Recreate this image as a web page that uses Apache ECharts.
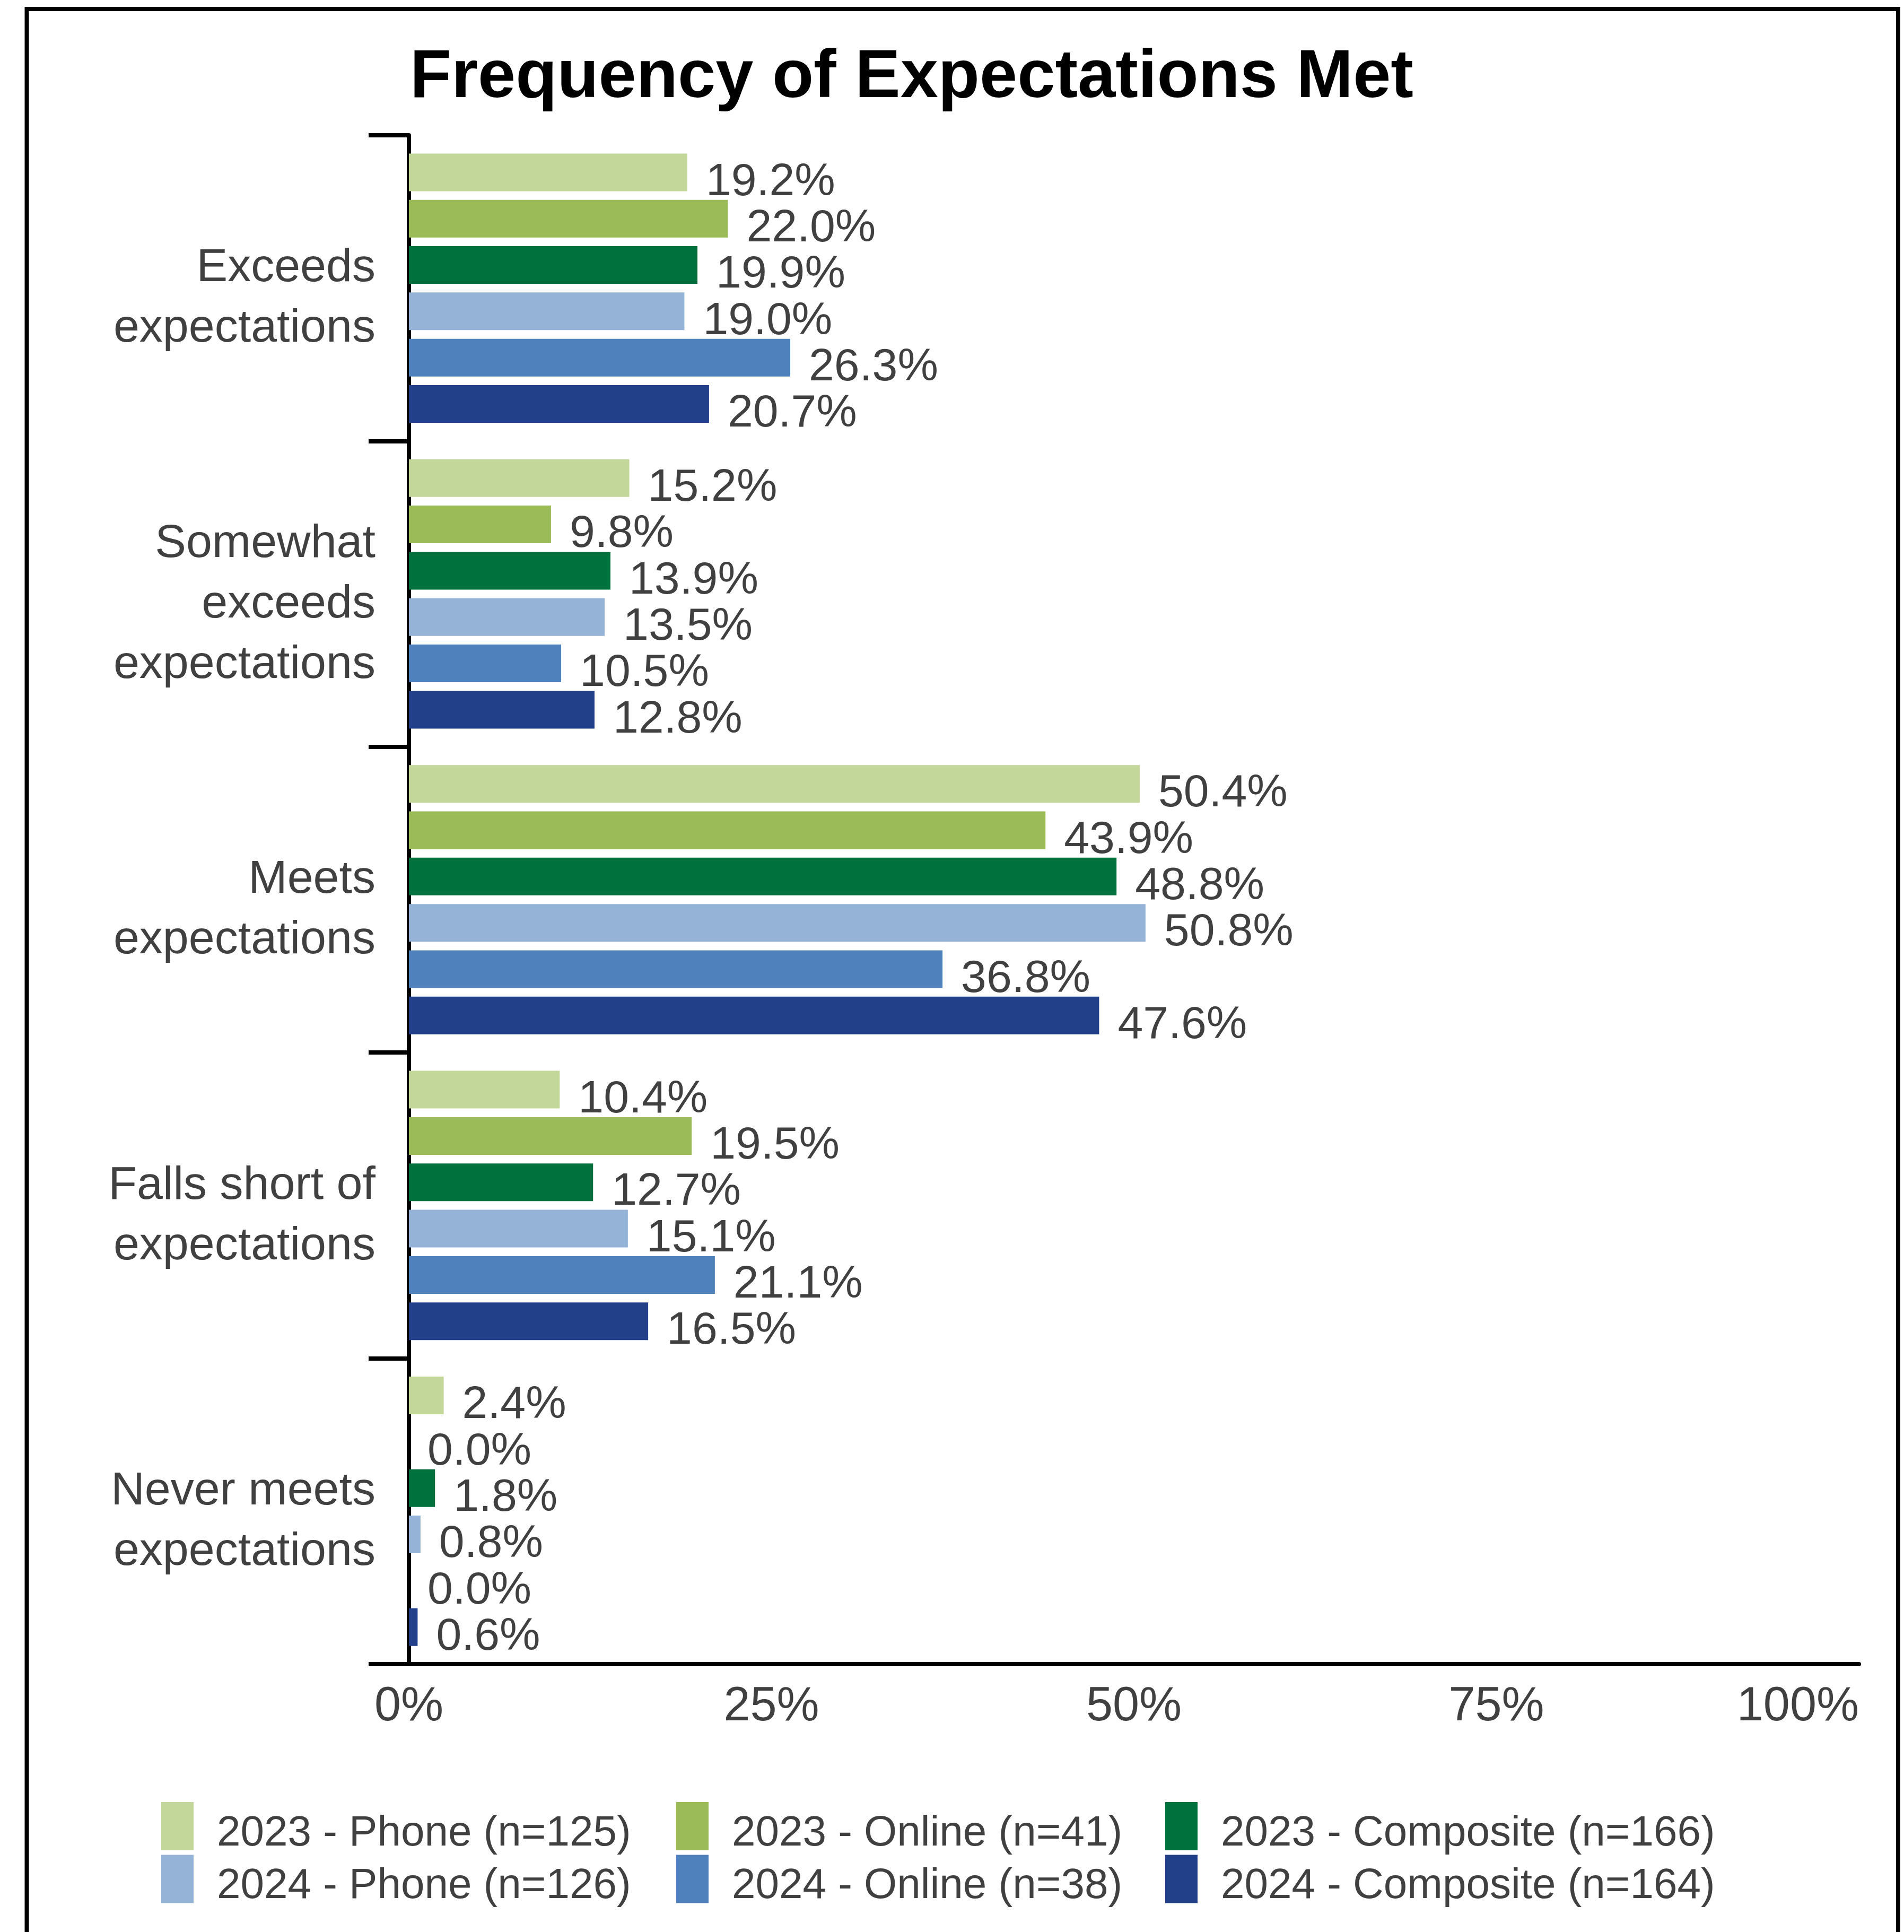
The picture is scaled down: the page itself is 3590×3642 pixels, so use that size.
<!DOCTYPE html>
<html>
<head>
<meta charset="utf-8">
<title>Frequency of Expectations Met</title>
<script src="https://cdn.jsdelivr.net/npm/echarts@6/dist/echarts.min.js"></script>
<style>
  html, body { margin: 0; padding: 0; background: #ffffff; }
  #chart { width: 3590px; height: 3642px; }
</style>
</head>
<body>
<div id="chart"></div>
<script>
// Response categories (top to bottom)
const categories = [
  'Exceeds\nexpectations',
  'Somewhat\nexceeds\nexpectations',
  'Meets\nexpectations',
  'Falls short of\nexpectations',
  'Never meets\nexpectations'
];

// Series names, in drawing order within each category
const seriesNames = [
  '2023 - Phone (n=125)',
  '2023 - Online (n=41)',
  '2023 - Composite (n=166)',
  '2024 - Phone (n=126)',
  '2024 - Online (n=38)',
  '2024 - Composite (n=164)'
];

// Percent of respondents per category
const phone2023     = [19.2, 15.2, 50.4, 10.4, 2.4];
const online2023    = [22.0,  9.8, 43.9, 19.5, 0.0];
const composite2023 = [19.9, 13.9, 48.8, 12.7, 1.8];
const phone2024     = [19.0, 13.5, 50.8, 15.1, 0.8];
const online2024    = [26.3, 10.5, 36.8, 21.1, 0.0];
const composite2024 = [20.7, 12.8, 47.6, 16.5, 0.6];

// X axis ticks
const xTicks = [0, 25, 50, 75, 100];

const seriesValues = [phone2023, online2023, composite2023, phone2024, online2024, composite2024];
const seriesColors = ['#C4D79B', '#9BBB59', '#00703C', '#95B3D7', '#4F81BD', '#22408A'];

const textColor = '#404040';
const fontFamily = 'Liberation Sans, Arial, sans-serif';

const chart = echarts.init(document.getElementById('chart'), null, { renderer: 'canvas' });

const series = seriesValues.map((vals, i) => ({
  name: seriesNames[i],
  type: 'bar',
  data: vals,
  barWidth: 71,
  barGap: '23%',
  itemStyle: { color: seriesColors[i] },
  label: {
    show: true,
    position: 'right',
    distance: 35,
    offset: [0, 19],
    color: textColor,
    fontSize: 86,
    fontFamily: fontFamily,
    formatter: p => p.value.toFixed(1) + '%'
  },
  emphasis: { disabled: true },
  animation: false
}));

// A thin blank line above the text nudges the block slightly downward
function legendColumn(left, names) {
  return {
    orient: 'vertical',
    left: left,
    top: 3397,
    padding: 0,
    itemWidth: 61,
    itemHeight: 91,
    itemGap: 0,
    icon: 'rect',
    selectedMode: false,
    data: names,
    formatter: name => '{s| }\n' + name,
    textStyle: {
      fontSize: 80,
      lineHeight: 60,
      color: textColor,
      fontFamily: fontFamily,
      padding: [0, 0, 0, 39],
      rich: { s: { fontSize: 1, lineHeight: 28 } }
    }
  };
}

const option = {
  backgroundColor: '#ffffff',
  animation: false,
  title: {
    text: 'Frequency of Expectations Met',
    left: 773,
    top: 84,
    padding: 0,
    textStyle: {
      fontSize: 128,
      fontWeight: 'bold',
      color: '#000000',
      fontFamily: fontFamily
    }
  },
  legend: [
    legendColumn(304, [seriesNames[0], seriesNames[3]]),
    legendColumn(1275, [seriesNames[1], seriesNames[4]]),
    legendColumn(2197, [seriesNames[2], seriesNames[5]])
  ],
  grid: {
    left: 771,
    right: 85,
    top: 255,
    bottom: 505,
    containLabel: false
  },
  xAxis: {
    type: 'value',
    min: xTicks[0],
    max: xTicks[xTicks.length - 1],
    interval: xTicks[1] - xTicks[0],
    axisLine: { show: true, lineStyle: { color: '#000000', width: 8 } },
    axisTick: { show: false },
    splitLine: { show: false },
    axisLabel: {
      color: textColor,
      fontSize: 90,
      fontFamily: fontFamily,
      margin: 36,
      alignMaxLabel: 'right',
      formatter: '{value}%'
    }
  },
  yAxis: {
    type: 'category',
    inverse: true,
    data: categories,
    axisLine: { show: true, lineStyle: { color: '#000000', width: 8 } },
    axisTick: { show: true, inside: false, length: 76, lineStyle: { color: '#000000', width: 8 } },
    splitLine: { show: false },
    axisLabel: {
      color: textColor,
      fontSize: 88,
      lineHeight: 114,
      fontFamily: fontFamily,
      margin: 63,
      align: 'right',
      formatter: v => '{s| }\n' + v,
      rich: { s: { fontSize: 1, lineHeight: 40 } }
    }
  },
  series: series,
  graphic: [
    {
      type: 'polyline',
      silent: true,
      z: 100,
      shape: { points: [[50.5, 3700], [50.5, 17], [3579, 17], [3579, 3700]] },
      style: { fill: null, stroke: '#000000', lineWidth: 8 }
    }
  ]
};

chart.setOption(option);
</script>
</body>
</html>
